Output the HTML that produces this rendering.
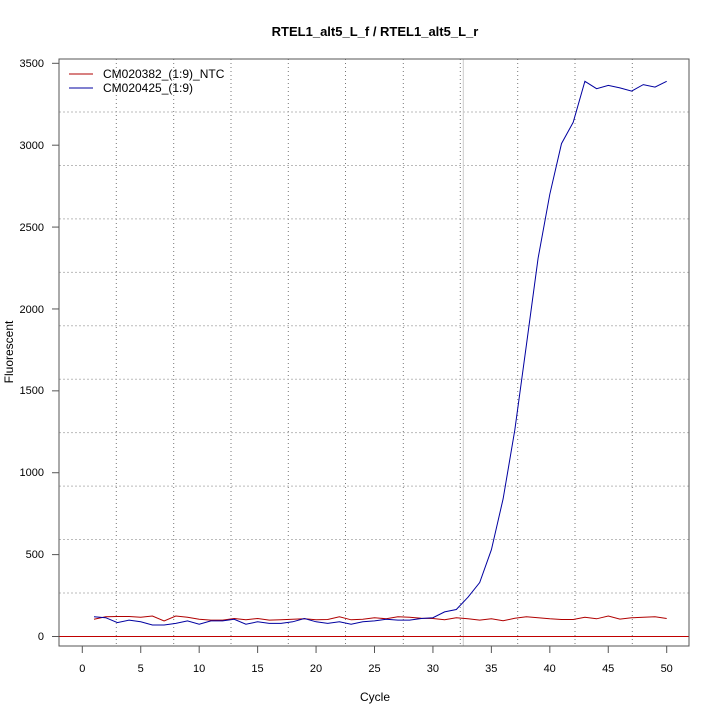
<!DOCTYPE html>
<html><head><style>body{margin:0;background:#fff}svg{display:block;font-family:"Liberation Sans",sans-serif}</style></head>
<body>
<svg id="s" width="720" height="720" xmlns="http://www.w3.org/2000/svg">
<rect width="720" height="720" fill="#fff"/>
<text x="375" y="36" font-size="13" font-weight="bold" text-anchor="middle">RTEL1_alt5_L_f / RTEL1_alt5_L_r</text>
<g id="grid" stroke="#777" stroke-width="1" stroke-dasharray="1,3"></g>
<line x1="463.3" y1="59" x2="463.3" y2="646" stroke="#ccc" stroke-width="1"/>
<line x1="59" y1="636.5" x2="689" y2="636.5" stroke="#c00000" stroke-width="1"/>
<polyline id="red" fill="none" stroke="#b00000" stroke-width="1"/>
<polyline id="blue" fill="none" stroke="#0000a0" stroke-width="1"/>
<rect x="59" y="59" width="630" height="587" fill="none" stroke="#555" stroke-width="1"/>
<g id="ticks" stroke="#555"></g>
<g font-size="11" text-anchor="end">
<text x="44" y="640">0</text><text x="44" y="558">500</text><text x="44" y="476">1000</text><text x="44" y="394">1500</text><text x="44" y="313">2000</text><text x="44" y="231">2500</text><text x="44" y="149">3000</text><text x="44" y="67">3500</text>
</g>
<g font-size="11" text-anchor="middle">
<text x="82.3" y="672">0</text><text x="140.7" y="672">5</text><text x="199.1" y="672">10</text><text x="257.5" y="672">15</text><text x="316" y="672">20</text><text x="374.5" y="672">25</text><text x="432.9" y="672">30</text><text x="491.3" y="672">35</text><text x="549.7" y="672">40</text><text x="608.2" y="672">45</text><text x="666.7" y="672">50</text>
</g>
<text x="375" y="701" font-size="12" text-anchor="middle">Cycle</text>
<text transform="translate(13,352) rotate(-90)" font-size="12" text-anchor="middle">Fluorescent</text>
<line x1="69" y1="74" x2="93" y2="74" stroke="#b00000"/>
<line x1="69" y1="88" x2="93" y2="88" stroke="#0000a0"/>
<text x="103" y="78" font-size="12">CM020382_(1:9)_NTC</text>
<text x="103" y="92" font-size="12">CM020425_(1:9)</text>
</svg>
<script>
var ns="http://www.w3.org/2000/svg";
function X(c){return 82.3+c*11.688}function Y(v){return 636.5-v*0.16377}
var g=document.getElementById('grid'),t=document.getElementById('ticks');
function L(p,a){var l=document.createElementNS(ns,'line');for(var k in a)l.setAttribute(k,a[k]);p.appendChild(l)}
[116.3,173.7,231,288.3,345.5,403.3,460.3,517.7,575,632.3].forEach(function(x){L(g,{x1:x,y1:59,x2:x,y2:646})});
for(var i=0;i<10;i++){var y=593-i*53.44;L(g,{x1:59,y1:y,x2:689,y2:y,"stroke-dasharray":"2,2",stroke:"#bbb"})}
for(var v=0;v<=3500;v+=500)L(t,{x1:52,y1:Y(v),x2:59,y2:Y(v)});
for(var c=0;c<=50;c+=5)L(t,{x1:X(c),y1:646,x2:X(c),y2:653});
var b=[120,115,85,100,90,70,70,80,95,75,95,95,105,75,90,80,80,90,110,90,80,90,75,90,95,105,100,100,110,115,150,165,240,330,530,840,1260,1780,2310,2700,3010,3140,3390,3345,3365,3350,3330,3370,3355,3390];
var r=[105,120,122,122,118,125,95,125,118,105,100,100,110,102,110,100,102,105,108,102,104,120,102,105,115,108,120,118,112,110,102,115,108,100,108,96,112,120,115,108,104,104,118,108,125,106,114,118,120,110];
function P(a){return a.map(function(v,i){return X(i+1).toFixed(1)+","+Y(v).toFixed(1)}).join(" ")}
document.getElementById('blue').setAttribute('points',P(b));
document.getElementById('red').setAttribute('points',P(r));
</script>
</body></html>
